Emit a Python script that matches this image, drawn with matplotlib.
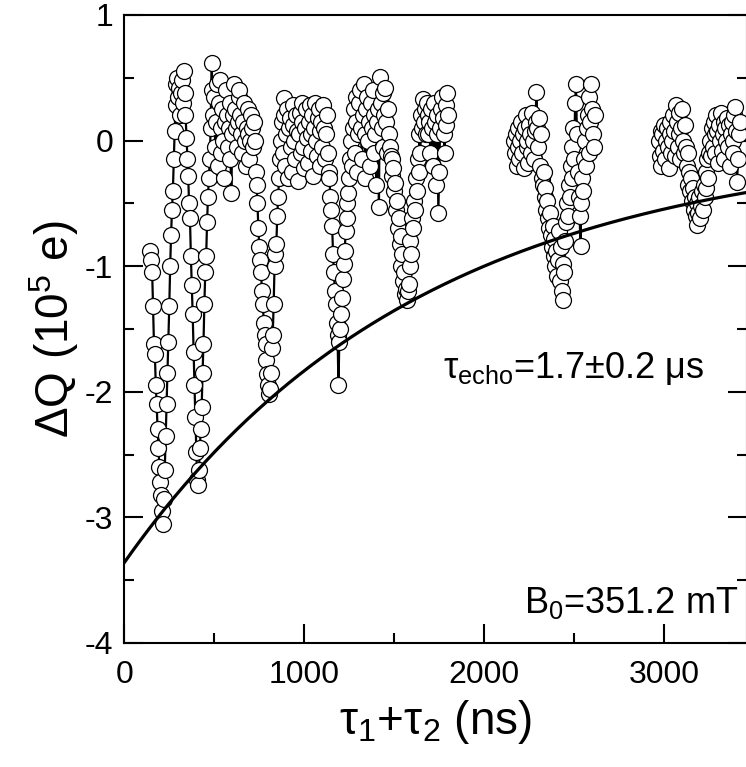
import numpy as np
import matplotlib
matplotlib.use("Agg")
import matplotlib.pyplot as plt
from matplotlib.ticker import MultipleLocator

plt.rcParams['font.family'] = ['Liberation Sans', 'DejaVu Sans']
plt.rcParams['mathtext.fontset'] = 'custom'
plt.rcParams['mathtext.rm'] = 'Liberation Sans'
plt.rcParams['mathtext.it'] = 'Liberation Sans:italic'
plt.rcParams['mathtext.default'] = 'regular'
plt.rcParams['axes.unicode_minus'] = False

STEP = 5  # ns between samples

# measured charge, pieces of (first tau1+tau2 in ns, Delta Q in 1e5 e)
seg1 = [
    (145, [-0.88, -0.95, -1.05, -1.32, -1.62, -1.70, -1.95, -2.10, -2.30, -2.45,
           -2.60, -2.72, -2.82, -2.95, -3.05]),
    (220, [-2.85, -2.62, -2.35, -2.10, -1.85, -1.60, -1.32, -1.00, -0.75, -0.55,
           -0.40, -0.15, 0.08, 0.28, 0.45]),
    (295, [0.50, 0.35, 0.42, 0.20, 0.38, 0.48, 0.30, 0.55]),
    (335, [0.38, 0.20, 0.02, -0.15, -0.28, -0.50, -0.62, -0.92, -1.15, -1.38,
           -1.68, -1.95, -2.20, -2.48, -2.70, -2.74, -2.62]),
    (420, [-2.45, -2.30, -2.12, -1.85, -1.62, -1.30, -1.05, -0.92, -0.65, -0.45, -0.30]),
    (475, [-0.15, 0.10, 0.62, 0.40, 0.20, 0.35, -0.05, 0.15, 0.45, -0.20,
           0.30, 0.48, 0.10, -0.10, 0.25, 0.00, -0.30, 0.15, 0.40, 0.20,
           -0.05, 0.10, 0.30, -0.15, -0.42, 0.05, 0.20, 0.45, 0.25, 0.10,
           -0.05, 0.15, 0.35, 0.40, 0.20, 0.05, -0.10, 0.15, 0.30, 0.00,
           -0.20, 0.10, 0.25, 0.05, -0.15, 0.00, 0.20, 0.10, -0.05, 0.15,
           0.00, -0.25]),
    (735, [-0.35, -0.50, -0.70, -0.85, -0.95, -1.05, -1.20, -1.30, -1.45, -1.55,
           -1.62, -1.75, -1.86, -1.95, -2.02]),
    (810, [-1.98, -1.85, -1.65, -1.55, -1.30, -1.00, -0.90, -0.82, -0.60, -0.45,
           -0.30, -0.15]),
    (870, [0.00, 0.15, -0.10, 0.34, 0.20, -0.20, 0.05, 0.25, -0.30, 0.10,
           0.18, -0.05, -0.25, 0.12, 0.28, 0.00, -0.15, 0.20, 0.08, -0.32,
           0.05, 0.22, -0.10, 0.15, 0.30, -0.05, -0.22, 0.10, 0.25, 0.02,
           -0.18, 0.15, 0.28, -0.08, 0.05, 0.20, -0.28, 0.10, 0.30, 0.00,
           -0.12, 0.18, 0.25, -0.20, 0.08, 0.15, -0.05, 0.28, 0.10, -0.15,
           0.05, 0.20, -0.10, -0.25]),
    (1140, [-0.30, -0.45, -0.55, -0.68, -0.90, -1.05, -1.20, -1.30, -1.45, -1.55,
            -1.95, -1.60]),
    (1200, [-1.50, -1.38, -1.25, -1.10, -0.98, -0.88, -0.72, -0.62, -0.50, -0.42,
            -0.30, -0.15]),
    (1260, [0.00, -0.20, 0.10, 0.25, -0.10, 0.35, 0.15, -0.25, 0.05, 0.30,
            0.40, 0.10, -0.15, 0.20, 0.45, 0.05, -0.30, 0.25, 0.35, 0.00,
            0.15, -0.20, 0.30, 0.10, 0.40, -0.10, 0.20, 0.05, -0.35, 0.15,
            0.25, -0.53, 0.51, 0.30, 0.10, 0.38, -0.05, 0.20, 0.42, 0.15,
            -0.10, 0.25, 0.05, -0.05, -0.12]),
    (1485, [-0.15, -0.28, -0.22, -0.40, -0.34, -0.55, -0.48, -0.70, -0.62, -0.82,
            -0.76, -1.00, -0.90, -1.12, -1.05, -1.22, -1.18, -1.27, -1.20]),
    (1580, [-1.14, -1.00, -0.80, -0.90, -0.62, -0.70, -0.48, -0.55, -0.30, -0.40,
            -0.15, -0.25, 0.05, -0.10, 0.20, 0.10, 0.33, 0.15, 0.25, 0.05, 0.30]),
    (1685, [0.20, 0.05, 0.15, -0.10, 0.25, 0.10, -0.20, 0.30, 0.15, -0.35,
            0.05, 0.20, -0.58, -0.25, 0.10, 0.25, 0.35, 0.18, 0.05, -0.10,
            0.12, 0.28, 0.38, 0.20]),
]

seg2 = [
    (2165, [0.00, -0.10, 0.05, -0.20, 0.10, -0.05, -0.15, 0.00, 0.15, -0.10,
            0.05, -0.22, 0.10, 0.20, -0.05, 0.00, -0.18, 0.12, 0.05, -0.10,
            0.22, 0.00, -0.15, 0.08, 0.15, 0.39, 0.10, -0.05, 0.18, -0.20,
            0.05, -0.30]),
    (2325, [-0.35, -0.25, -0.45, -0.38, -0.55, -0.48, -0.62, -0.70, -0.58, -0.75,
            -0.85, -0.68, -0.92, -0.78, -1.00, -0.88, -1.08, -0.95, -0.72, -1.12,
            -0.85, -1.20, -0.98, -1.27, -1.05, -0.80]),
    (2455, [-0.65, -0.50, -0.60, -0.35, -0.45, -0.20, -0.30, -0.05, 0.10, -0.15,
            0.30, 0.45, 0.05, -0.25, -0.45, -0.60, -0.84, -0.50, -0.30, -0.40,
            -0.15, 0.00, -0.20, 0.10, 0.20, -0.10, 0.35, 0.15, 0.45, 0.25,
            0.05, -0.05, 0.20]),
]

seg3 = [
    (2970, [0.00, -0.12, 0.08, -0.20, 0.05, -0.08, 0.12, -0.15, 0.00, 0.10,
            -0.05, -0.22, 0.05, 0.15, -0.10, 0.00, 0.20, 0.08, -0.12, 0.28,
            0.15, -0.05, 0.22, 0.05, -0.15, 0.10, 0.25, 0.00, -0.10, 0.12]),
    (3120, [-0.05, -0.20, -0.10, -0.35, -0.25, -0.40, -0.30, -0.48, -0.38, -0.55,
            -0.45, -0.60, -0.50, -0.67, -0.58, -0.45, -0.62, -0.52, -0.40, -0.55,
            -0.35, -0.45, -0.25, -0.38, -0.15, -0.30, -0.10]),
    (3255, [0.00, -0.12, 0.10, -0.05, 0.15, 0.05, -0.10, 0.20, 0.08, -0.18,
            0.12, 0.00, 0.22, -0.08, 0.05, 0.15, -0.15, 0.10, 0.00, 0.18,
            -0.05, 0.12, -0.20, 0.05, 0.15, 0.00, -0.10, 0.20, 0.27, 0.08,
            -0.33, -0.15, 0.05, 0.15]),
]

# exponential envelope fit
fit_amp = -3.36
fit_tau = 1650.0  # ns


def join(pieces):
    xs, ys = [], []
    for x0, vals in pieces:
        xs.append(x0 + STEP * np.arange(len(vals)))
        ys.append(np.array(vals))
    return np.concatenate(xs), np.concatenate(ys)


fig = plt.figure(figsize=(7.46, 7.67), dpi=100)
ax = fig.add_axes([0.1666, 0.1617, 0.8347, 0.8188])

for seg in (seg1, seg2, seg3):
    x, y = join(seg)
    ax.plot(x, y, '-', color='black', lw=1.6, marker='o', ms=11.5,
            mfc='white', mec='black', mew=0.9, zorder=2)

tt = np.linspace(0, 3460, 300)
ax.plot(tt, fit_amp * np.exp(-tt / fit_tau), color='black', lw=2.3, zorder=3)

ax.set_xlim(0, 3460)
ax.set_ylim(-4, 1)
ax.xaxis.set_major_locator(MultipleLocator(1000))
ax.xaxis.set_minor_locator(MultipleLocator(500))
ax.yaxis.set_major_locator(MultipleLocator(1))
ax.yaxis.set_minor_locator(MultipleLocator(0.5))
ax.tick_params(which='both', direction='in', right=True, top=False, width=1.5,
               labelsize=23, pad=8)
ax.tick_params(axis='x', pad=12)
ax.tick_params(which='major', length=14)
ax.tick_params(which='minor', length=7)
for s in ax.spines.values():
    s.set_linewidth(1.5)

ax.set_xlabel('τ$_1$+τ$_2$ (ns)', fontsize=33, labelpad=6)
ax.set_ylabel('ΔQ (10$^5$ e)', fontsize=33)
ax.yaxis.set_label_coords(-0.07, 0.5)

ax.text(3226, -1.89, 'τ$_{echo}$=1.7±0.2 μs', fontsize=26, ha='right', va='baseline')
ax.text(3409, -3.76, 'B$_0$=351.2 mT', fontsize=26, ha='right', va='baseline')

fig.savefig('out.png', dpi=100)
